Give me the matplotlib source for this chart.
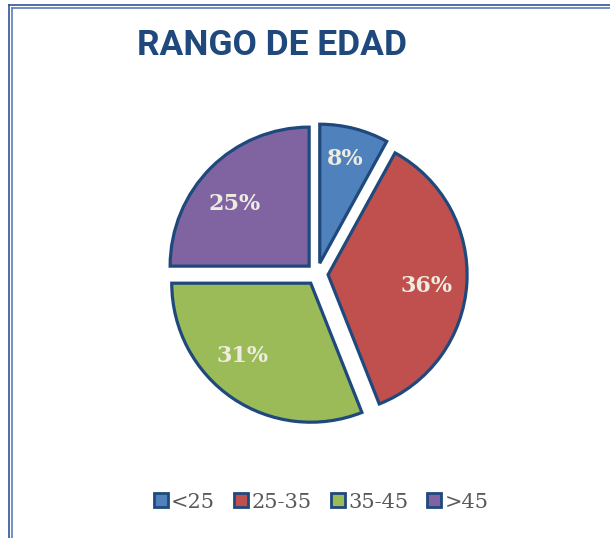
import matplotlib.pyplot as plt
from matplotlib.lines import Line2D

# data
categories = ['<25', '25-35', '35-45', '>45']
shares = [8, 36, 31, 25]
colors = ['#4F81BD', '#C0504D', '#9BBB59', '#8064A2']
edge = '#1F497D'

W, H = 610, 538
fig = plt.figure(figsize=(W / 100, H / 100), dpi=100)
fig.patch.set_facecolor('white')

# pie axes: centre at (317, 274) px, radius ~139 px
L = 1.25
R = 139
S = R * 2 * L
cx, cy = 317, 274
ax = fig.add_axes([(cx - S / 2) / W, (H - cy - S / 2) / H, S / W, S / H])

wedges, texts, autotexts = ax.pie(
    shares, colors=colors, startangle=90, counterclock=False,
    explode=[0.08] * len(shares), autopct='%1.0f%%', pctdistance=0.72,
    wedgeprops=dict(edgecolor=edge, linewidth=2.3),
    textprops=dict(color='#EEECE1', fontsize=16, fontweight='bold',
                   family='DejaVu Serif'))
ax.set_xlim(-L, L)
ax.set_ylim(-L, L)

# excel "best fit" label spots (pixels in the reference)
label_px = [(345, 159), (427, 286), (243, 356), (235, 204)]
for t, (px, py) in zip(autotexts, label_px):
    t.set_position(((px - cx) / R, (cy - py) / R))

# title
fig.text(272 / W, 1 - 46 / H, 'RANGO DE EDAD', ha='center', va='center',
         fontsize=25.5, fontweight='bold', color='#1F497D', family='Roboto')

# legend
handles = [Line2D([], [], marker='s', ls='', markersize=10.5, markerfacecolor=c,
                  markeredgecolor=edge, markeredgewidth=2) for c in colors]
fig.legend(handles, categories, loc='center', bbox_to_anchor=(321 / W, 1 - 502 / H),
           ncol=4, frameon=False, handlelength=0.7, handletextpad=0.15,
           columnspacing=0.9, prop=dict(family='DejaVu Serif', size=15),
           labelcolor='#595959')

# page border (double line, left and top)
for off, col in [(8.5, '#2F5597'), (12, '#5B7FB5')]:
    fig.add_artist(Line2D([off / W, off / W], [0, 1 - (off - 4) / H],
                          transform=fig.transFigure, color=col, lw=1.2))
    fig.add_artist(Line2D([off / W, 1], [1 - (off - 4) / H, 1 - (off - 4) / H],
                          transform=fig.transFigure, color=col, lw=1.2))

fig.savefig('out.png', dpi=100)
